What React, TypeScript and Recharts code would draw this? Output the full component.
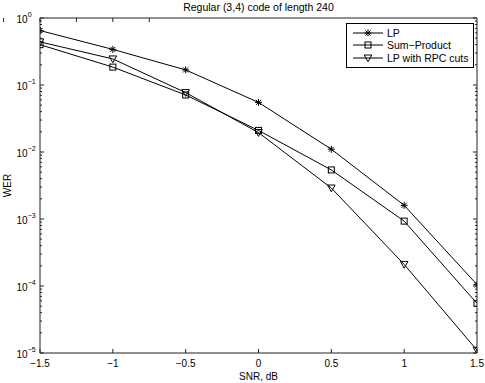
import React from 'react';
import { LineChart, Line, XAxis, YAxis, Legend, Label } from 'recharts';

// SNR points (dB) and word error rates
const snr = [-1.5, -1, -0.5, 0, 0.5, 1, 1.5];
const werLP = [0.65, 0.34, 0.168, 0.055, 0.011, 0.0016, 1.05e-4];
const werSumProduct = [0.4, 0.185, 0.071, 0.021, 0.0054, 9.3e-4, 5.5e-5];
const werRPC = [0.44, 0.245, 0.077, 0.0195, 0.0029, 2.1e-4, 1.1e-5];

const xTicks = [-1.5, -1, -0.5, 0, 0.5, 1, 1.5];
const yExponents = [0, -1, -2, -3, -4, -5];
const minorSteps = [2, 3, 4, 5, 6, 7, 8, 9];
const seriesOrder = ['lp', 'sp', 'rpc'];

const data = snr.map((s, i) => ({ snr: s, lp: werLP[i], sp: werSumProduct[i], rpc: werRPC[i] }));
const yMajor = yExponents.map((e) => Math.pow(10, e));
const yMinor = yExponents.slice(1).flatMap((e) => minorSteps.map((m) => m * Math.pow(10, e)));
const yAll = [...yMajor, ...yMinor];

const FONT = '"Liberation Sans", Arial, Helvetica, sans-serif';
const INK = '#000';
const AXIS = '#222';
const MAJOR = 4;
const MINOR = 2;
const minus = (s: string) => s.replace('-', '\u2212');
const isMajor = (v: number) => Math.abs(Math.log10(v) - Math.round(Math.log10(v))) < 1e-6;

// markers in the MATLAB style
const Star = ({ cx, cy }: { cx: number; cy: number }) => {
  const r = 3.5;
  const d = r * 0.72;
  return (
    <g stroke={INK} strokeWidth={1}>
      <line x1={cx - r} y1={cy} x2={cx + r} y2={cy} />
      <line x1={cx} y1={cy - r} x2={cx} y2={cy + r} />
      <line x1={cx - d} y1={cy - d} x2={cx + d} y2={cy + d} />
      <line x1={cx - d} y1={cy + d} x2={cx + d} y2={cy - d} />
    </g>
  );
};

const Square = ({ cx, cy }: { cx: number; cy: number }) => (
  <rect x={cx - 3} y={cy - 3} width={6} height={6} fill="none" stroke={INK} strokeWidth={1} />
);

const Tri = ({ cx, cy }: { cx: number; cy: number }) => (
  <polygon points={`${cx - 3.8},${cy - 3} ${cx + 3.8},${cy - 3} ${cx},${cy + 3.8}`} fill="none" stroke={INK} strokeWidth={1} />
);

const markers: Record<string, any> = { lp: Star, sp: Square, rpc: Tri };

// tick components: x/y arrive exactly on the axis line (tickSize 0, tickMargin 0), ticks point inward
const BottomTick = ({ x, y, payload }: any) => (
  <g>
    <line x1={x} x2={x} y1={y} y2={y - MAJOR} stroke={AXIS} />
    <text x={x} y={y + 14} textAnchor="middle" fontSize={10} fontFamily={FONT} fill={INK}>
      {minus(String(payload.value))}
    </text>
  </g>
);

const TopTick = ({ x, y }: any) => <line x1={x} x2={x} y1={y} y2={y + MAJOR} stroke={AXIS} />;

const LeftTick = ({ x, y, payload }: any) => {
  const major = isMajor(payload.value);
  const exp = Math.round(Math.log10(payload.value));
  return (
    <g>
      <line x1={x} x2={x + (major ? MAJOR : MINOR)} y1={y} y2={y} stroke={AXIS} />
      {major && (
        <text x={x - 23.5} y={y + 4.5} fontSize={10} fontFamily={FONT} fill={INK}>
          10
          <tspan dy={-5.5} fontSize={7}>{minus(String(exp))}</tspan>
        </text>
      )}
    </g>
  );
};

const RightTick = ({ x, y, payload }: any) => (
  <line x1={x} x2={x - (isMajor(payload.value) ? MAJOR : MINOR)} y1={y} y2={y} stroke={AXIS} />
);

const LegendBox = ({ payload }: any) => {
  const items = seriesOrder.map((k) => (payload || []).find((p: any) => p.dataKey === k)).filter(Boolean);
  return (
    <div style={{ border: '1px solid #000', background: '#fff', width: 126, padding: '3px 0',
      fontFamily: FONT, fontSize: 10.5, color: INK }}>
      {items.map((entry: any) => {
        const M = markers[entry.dataKey];
        return (
          <div key={entry.dataKey} style={{ display: 'flex', alignItems: 'center', height: 12.3 }}>
            <svg width={40} height={12} style={{ flex: 'none' }}>
              <line x1={6} x2={36} y1={6} y2={6} stroke={INK} strokeWidth={1} />
              <M cx={21} cy={6} />
            </svg>
            <span style={{ whiteSpace: 'nowrap' }}>{entry.value}</span>
          </div>
        );
      })}
    </div>
  );
};

export default function App() {
  const dotFor = (key: string) => (p: any) => {
    const M = markers[key];
    return <M key={`${key}-${p.index}`} cx={p.cx} cy={p.cy} />;
  };

  return (
    <div style={{ position: 'absolute', left: 0, top: 0, background: '#fff' }}>
      <LineChart width={485} height={383} data={data} margin={{ top: 17, right: 7, bottom: 29, left: 39 }}>
        <XAxis xAxisId="x" dataKey="snr" type="number" domain={[-1.5, 1.5]} ticks={xTicks} interval={0}
          height={1} tickSize={0} tickMargin={0} tickLine={false} tick={<BottomTick />} stroke={AXIS} allowDataOverflow>
          <Label
            content={({ viewBox }: any) => (
              <text x={viewBox.x + viewBox.width / 2} y={viewBox.y + 27} textAnchor="middle"
                fontSize={10} fontFamily={FONT} fill={INK}>SNR, dB</text>
            )}
          />
        </XAxis>
        <XAxis xAxisId="xt" orientation="top" type="number" domain={[-1.5, 1.5]} ticks={xTicks} interval={0}
          height={1} tickSize={0} tickMargin={0} tickLine={false} tick={<TopTick />} stroke={AXIS} allowDataOverflow>
          <Label
            content={({ viewBox }: any) => (
              <text x={viewBox.x + viewBox.width / 2} y={viewBox.y - 6} textAnchor="middle"
                fontSize={10.5} fontFamily={FONT} fill={INK}>Regular (3,4) code of length 240</text>
            )}
          />
        </XAxis>
        <YAxis yAxisId="y" type="number" scale="log" domain={[1e-5, 1]} ticks={yAll} interval={0}
          width={1} tickSize={0} tickMargin={0} tickLine={false} tick={<LeftTick />} stroke={AXIS} allowDataOverflow>
          <Label
            content={({ viewBox }: any) => {
              const cx = viewBox.x - 28;
              const cy = viewBox.y + viewBox.height / 2;
              return (
                <text x={cx} y={cy} transform={`rotate(-90 ${cx} ${cy})`} textAnchor="middle"
                  fontSize={10} fontFamily={FONT} fill={INK}>WER</text>
              );
            }}
          />
        </YAxis>
        <YAxis yAxisId="yr" orientation="right" type="number" scale="log" domain={[1e-5, 1]} ticks={yAll}
          interval={0} width={1} tickSize={0} tickMargin={0} tickLine={false} tick={<RightTick />} stroke={AXIS}
          allowDataOverflow />
        <Legend layout="vertical" align="center" verticalAlign="middle" content={<LegendBox />}
          wrapperStyle={{ position: 'absolute', left: 346, top: 23, width: 128 }} />
        <Line xAxisId="x" yAxisId="y" dataKey="lp" name="LP" stroke={INK} strokeWidth={1}
          dot={dotFor('lp')} activeDot={false} isAnimationActive={false} />
        <Line xAxisId="x" yAxisId="y" dataKey="sp" name={'Sum\u2212Product'} stroke={INK} strokeWidth={1}
          dot={dotFor('sp')} activeDot={false} isAnimationActive={false} />
        <Line xAxisId="x" yAxisId="y" dataKey="rpc" name="LP with RPC cuts" stroke={INK} strokeWidth={1}
          dot={dotFor('rpc')} activeDot={false} isAnimationActive={false} />
      </LineChart>
    </div>
  );
}
